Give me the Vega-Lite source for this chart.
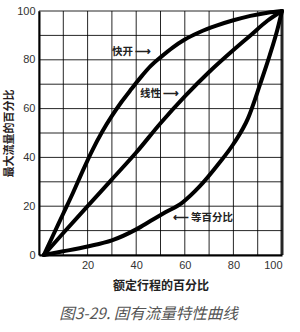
{
  "$schema": "https://vega.github.io/schema/vega-lite/v6.json",
  "width": 243,
  "height": 244,
  "autosize": "none",
  "padding": {"left": 39, "top": 11, "right": 18, "bottom": 77},
  "background": "white",
  "config": {
    "view": {"stroke": null},
    "font": "Noto Sans CJK SC"
  },
  "title": {
    "text": "图3-29.  固有流量特性曲线",
    "orient": "bottom",
    "anchor": "middle",
    "font": "Noto Sans CJK SC",
    "fontSize": 15.5,
    "fontStyle": "italic",
    "fontWeight": "normal",
    "color": "#555",
    "offset": 16,
    "dx": -12
  },
  "datasets": {
    "grid": [
      {"v": 0}, {"v": 10}, {"v": 20}, {"v": 30}, {"v": 40}, {"v": 50},
      {"v": 60}, {"v": 70}, {"v": 80}, {"v": 90}, {"v": 100}
    ],
    "curves": [
      {"s": "快开", "x": 2, "y": 0}, {"s": "快开", "x": 6, "y": 8.5}, {"s": "快开", "x": 10, "y": 17},
      {"s": "快开", "x": 14, "y": 25.5}, {"s": "快开", "x": 18, "y": 34.5}, {"s": "快开", "x": 22, "y": 43},
      {"s": "快开", "x": 26, "y": 50.5}, {"s": "快开", "x": 30, "y": 57}, {"s": "快开", "x": 34, "y": 62.8},
      {"s": "快开", "x": 38, "y": 68}, {"s": "快开", "x": 42, "y": 73}, {"s": "快开", "x": 46, "y": 77.5},
      {"s": "快开", "x": 50, "y": 81}, {"s": "快开", "x": 55, "y": 85}, {"s": "快开", "x": 60, "y": 88.3},
      {"s": "快开", "x": 66, "y": 91.3}, {"s": "快开", "x": 73, "y": 94}, {"s": "快开", "x": 80, "y": 96.2},
      {"s": "快开", "x": 87, "y": 98}, {"s": "快开", "x": 94, "y": 99.3}, {"s": "快开", "x": 100, "y": 100},
      {"s": "线性", "x": 2, "y": 0}, {"s": "线性", "x": 10, "y": 9}, {"s": "线性", "x": 20, "y": 20},
      {"s": "线性", "x": 30, "y": 31}, {"s": "线性", "x": 40, "y": 42}, {"s": "线性", "x": 50, "y": 54},
      {"s": "线性", "x": 60, "y": 65}, {"s": "线性", "x": 70, "y": 75}, {"s": "线性", "x": 80, "y": 84},
      {"s": "线性", "x": 87, "y": 90}, {"s": "线性", "x": 94, "y": 96}, {"s": "线性", "x": 100, "y": 100},
      {"s": "等百分比", "x": 2, "y": 0}, {"s": "等百分比", "x": 10, "y": 1.5}, {"s": "等百分比", "x": 20, "y": 3.5},
      {"s": "等百分比", "x": 30, "y": 6}, {"s": "等百分比", "x": 40, "y": 10.5}, {"s": "等百分比", "x": 46, "y": 14},
      {"s": "等百分比", "x": 52, "y": 17.5}, {"s": "等百分比", "x": 59, "y": 21.5}, {"s": "等百分比", "x": 66, "y": 28},
      {"s": "等百分比", "x": 74, "y": 37.5}, {"s": "等百分比", "x": 80, "y": 45.5}, {"s": "等百分比", "x": 86, "y": 56},
      {"s": "等百分比", "x": 91, "y": 70}, {"s": "等百分比", "x": 95, "y": 82}, {"s": "等百分比", "x": 98, "y": 92},
      {"s": "等百分比", "x": 100, "y": 100}
    ],
    "notes": [
      {"label": "快开 ⟶", "x": 30, "y": 83},
      {"label": "线性 ⟶", "x": 41.6, "y": 66},
      {"label": "⟵ 等百分比", "x": 55, "y": 15}
    ]
  },
  "layer": [
    {
      "data": {"name": "grid"},
      "mark": {"type": "rule", "color": "#000", "opacity": 0.85},
      "encoding": {
        "x": {"field": "v", "type": "quantitative"},
        "strokeWidth": {"condition": {"test": "datum.v == 100", "value": 3}, "value": 1}
      }
    },
    {
      "data": {"name": "grid"},
      "mark": {"type": "rule", "color": "#000", "opacity": 0.85, "strokeWidth": 1},
      "encoding": {
        "y": {"field": "v", "type": "quantitative"}
      }
    },
    {
      "data": {"name": "curves"},
      "mark": {"type": "line", "color": "#000", "strokeWidth": 4, "interpolate": "monotone", "strokeCap": "round"},
      "encoding": {
        "x": {
          "field": "x", "type": "quantitative",
          "scale": {"domain": [0, 100], "nice": false},
          "axis": {
            "title": "额定行程的百分比",
            "grid": false,
            "ticks": false,
            "domainColor": "#000",
            "domainWidth": 2,
            "values": [0, 20, 40, 60, 80, 100],
            "labelExpr": "datum.value > 0 ? datum.label : ''",
            "labelFont": "Liberation Sans",
            "labelFontSize": 11,
            "labelColor": "#333",
            "labelPadding": 4,
            "titleFont": "Noto Sans CJK SC",
            "titleFontSize": 12,
            "titleFontWeight": "bold",
            "titleColor": "#222",
            "titlePadding": 10
          }
        },
        "y": {
          "field": "y", "type": "quantitative",
          "scale": {"domain": [0, 100], "nice": false},
          "axis": {
            "title": "最大流量的百分比",
            "grid": false,
            "ticks": false,
            "domainColor": "#000",
            "domainWidth": 2,
            "values": [0, 20, 40, 60, 80, 100],
            "labelFont": "Liberation Sans",
            "labelFontSize": 11,
            "labelColor": "#333",
            "labelPadding": 4,
            "titleFont": "Noto Sans CJK SC",
            "titleFontSize": 11,
            "titleFontWeight": "bold",
            "titleColor": "#2a1c1c",
            "titlePadding": 2
          }
        },
        "detail": {"field": "s", "type": "nominal"}
      }
    },
    {
      "data": {"name": "notes"},
      "mark": {"type": "text", "align": "left", "baseline": "middle", "fontSize": 10.5, "fontWeight": "bold", "color": "#222", "font": "Noto Sans CJK SC"},
      "encoding": {
        "x": {"field": "x", "type": "quantitative"},
        "y": {"field": "y", "type": "quantitative"},
        "text": {"field": "label"}
      }
    }
  ]
}
